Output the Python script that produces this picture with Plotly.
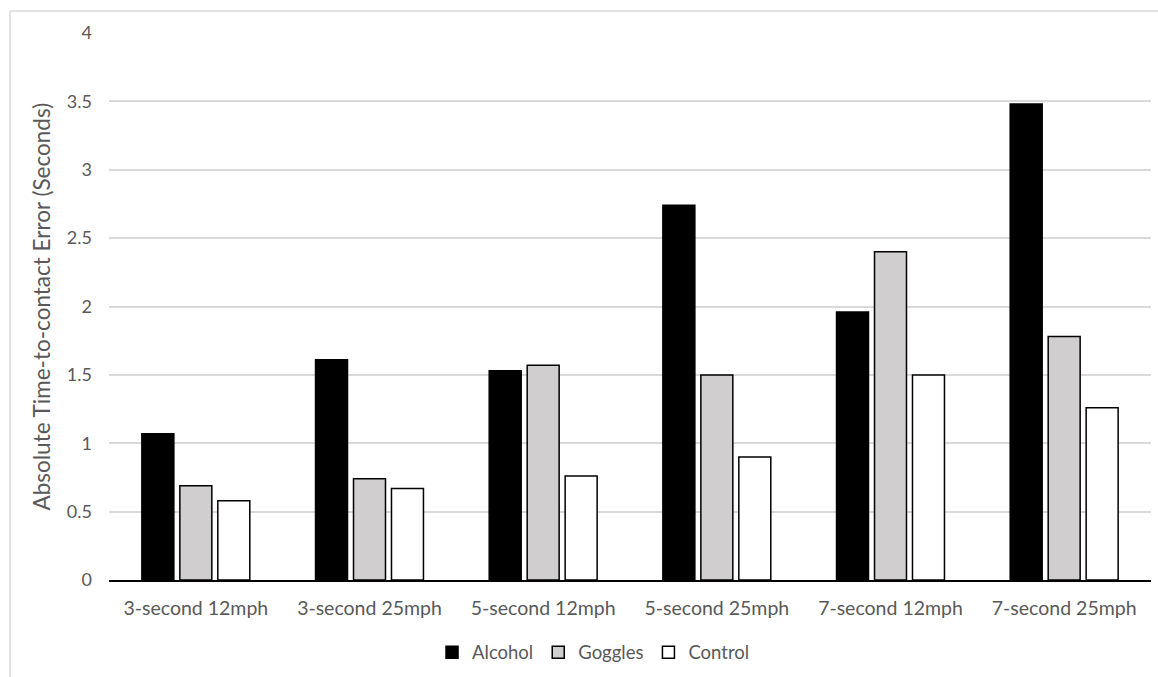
import plotly.graph_objects as go

categories = ["3-second 12mph", "3-second 25mph", "5-second 12mph",
              "5-second 25mph", "7-second 12mph", "7-second 25mph"]
alcohol = [1.07, 1.61, 1.53, 2.74, 1.96, 3.48]
goggles = [0.69, 0.74, 1.57, 1.50, 2.40, 1.78]
control = [0.58, 0.67, 0.76, 0.90, 1.50, 1.26]
y_ticks = [0, 0.5, 1, 1.5, 2, 2.5, 3, 3.5, 4]
y_tick_text = ["0", "0.5", "1", "1.5", "2", "2.5", "3", "3.5", "4"]

FONT = "Lato"
GRAY = "#595959"

fig = go.Figure()
for name, vals, col in [("Alcohol", alcohol, "#000000"),
                        ("Goggles", goggles, "#d0cece"),
                        ("Control", control, "#ffffff")]:
    fig.add_trace(go.Bar(x=categories, y=vals, name=name,
                         marker=dict(color=col, line=dict(color="#000000", width=1.5))))

fig.update_layout(
    width=1158, height=677,
    margin=dict(l=109, r=7, t=33, b=97, autoexpand=False),
    paper_bgcolor="white", plot_bgcolor="white",
    barmode="group", bargap=0.344, bargroupgap=0.158,
    font=dict(family=FONT, color=GRAY, size=18),
    showlegend=True,
    legend=dict(orientation="h", x=0.465, xanchor="center", y=-0.133, yanchor="middle",
                font=dict(family=FONT, size=18.5, color=GRAY), traceorder="normal",
                itemwidth=30),
    xaxis=dict(showgrid=False, showline=True, linecolor="#000000", linewidth=1.5,
               ticks="", tickfont=dict(family=FONT, size=19.5, color=GRAY),
               ticklabelstandoff=10, automargin=False),
    yaxis=dict(range=[0, 4], tickvals=y_ticks, ticktext=y_tick_text,
               showgrid=True, gridcolor="#d9d9d9", gridwidth=1.5,
               zeroline=False, showline=False, ticks="",
               tickfont=dict(family=FONT, size=18, color=GRAY),
               ticklabelstandoff=16, automargin=False),
    annotations=[dict(text="Absolute Time-to-contact Error (Seconds)", textangle=-90,
                      xref="paper", yref="paper", x=-0.0643, y=0.5,
                      xanchor="center", yanchor="middle", showarrow=False,
                      font=dict(family=FONT, size=22.5, color=GRAY))],
    shapes=[
        dict(type="line", xref="paper", yref="paper", x0=-0.095, x1=1.2,
             y0=1.0402, y1=1.0402, line=dict(color="#d9d9d9", width=1.5)),
        dict(type="line", xref="paper", yref="paper", x0=-0.095, x1=-0.095,
             y0=1.0402, y1=-0.3, line=dict(color="#d9d9d9", width=1.5)),
    ],
)

fig.write_html("out.html")
